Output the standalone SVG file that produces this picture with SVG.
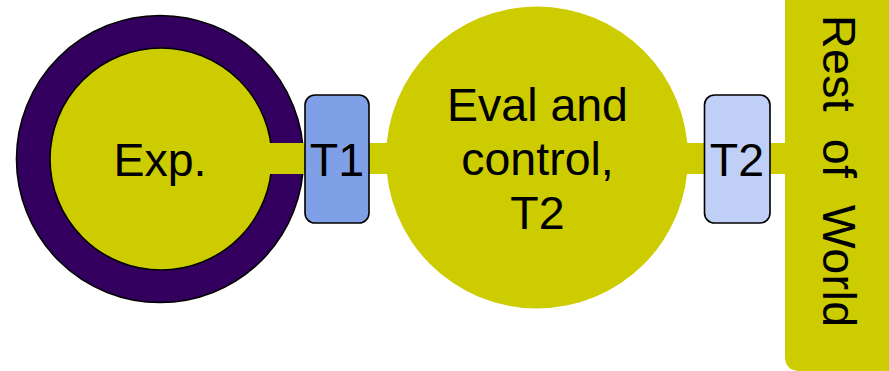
<svg xmlns="http://www.w3.org/2000/svg" width="889" height="371" viewBox="0 0 889 371">
  <style>
    .lbl { font-family: "Liberation Sans", Arial, sans-serif; font-size: 46.5px; fill: #000; text-anchor: middle; }
    .yel { fill: #cccc00; }
    .edge { fill: #cccc00; stroke: none; }
    .tag { stroke: #000; stroke-width: 1.6; }
  </style>
  <rect width="889" height="371" fill="#fff"/>

  <g id="exp">
    <circle cx="160" cy="159" r="143.5" fill="#330060" stroke="#000" stroke-width="1.6"/>
    <circle cx="161" cy="159" r="111" class="yel" stroke="#000" stroke-width="1.6"/>
  </g>

  <g id="connectors">
    <rect class="edge" x="262" y="143" width="46" height="31"/>
    <rect class="edge" x="366" y="143" width="28" height="31"/>
    <rect class="edge" x="682" y="143" width="26" height="31" rx="4"/>
    <rect class="edge" x="766" y="143" width="24" height="31" rx="4"/>
  </g>

  <g id="exp-label">
    <text class="lbl" x="160" y="176">Exp.</text>
  </g>

  <g id="eval">
    <circle cx="537" cy="157.5" r="151" class="yel"/>
    <text class="lbl" x="537.5" y="121">Eval and</text>
    <text class="lbl" x="537.5" y="175">control,</text>
    <text class="lbl" x="537.5" y="229">T2</text>
  </g>

  <g id="t1">
    <rect class="tag" x="305" y="95" width="64" height="128" rx="10" fill="#7f9fe6"/>
    <text class="lbl" x="337" y="176">T1</text>
  </g>

  <g id="t2">
    <rect class="tag" x="704.5" y="95" width="65.5" height="128" rx="10" fill="#bfcff5" stroke="#222"/>
    <text class="lbl" x="737" y="176">T2</text>
  </g>

  <g id="rest">
    <path class="yel" d="M785 -5 H900 V371 H800 Q785 371 785 356 Z"/>
    <text class="lbl" transform="translate(823 171) rotate(90)" style="white-space:pre" xml:space="preserve" textLength="312" lengthAdjust="spacing">Rest  of  World</text>
  </g>
</svg>
